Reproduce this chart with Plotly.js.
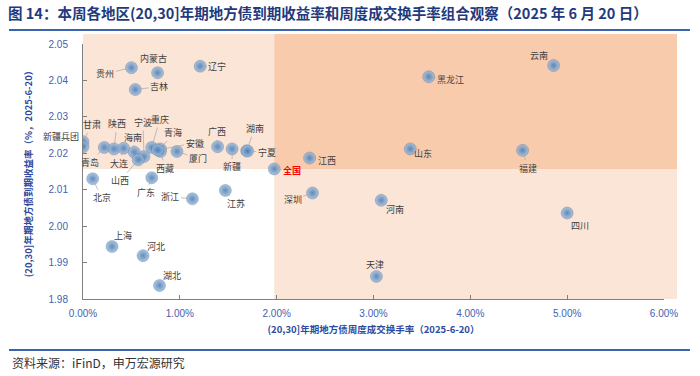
<!DOCTYPE html>
<html>
<head>
<meta charset="utf-8">
<script src="https://cdn.plot.ly/plotly-3.0.1.min.js"></script>
<style>html,body{margin:0;padding:0;background:#fff;}#chart{width:700px;height:376px;}</style>
</head>
<body>
<div id="chart"></div>
<script>
// ---- data ----
const regions = ["贵州","内蒙古","吉林","辽宁","云南","黑龙江","山东","福建","江西","全国",
  "深圳","河南","四川","天津","北京","广东","浙江","江苏","上海","河北","湖北",
  "甘肃","新疆兵团","青岛","陕西","大连","海南","宁波","山西","重庆","青海","西藏","安徽","厦门",
  "广西","新疆","湖南","宁夏"];
// weekly turnover rate, %
const turnover = [0.50,0.77,0.54,1.21,4.86,3.57,3.38,4.54,2.34,1.975,
  2.37,3.08,5.00,3.03,0.10,0.71,1.13,1.47,0.30,0.62,0.79,
  0.00,0.00,0.22,0.32,0.42,0.53,0.63,0.57,0.71,0.80,0.80,0.77,0.97,
  1.39,1.54,1.69,1.70];
// (20,30] yield to maturity, %
const yields = [2.0435,2.0421,2.0375,2.0439,2.0441,2.0410,2.0212,2.0208,2.0187,2.0157,
  2.0091,2.0071,2.0036,1.9862,2.0130,2.0133,2.0075,2.0098,1.9944,1.9919,1.9837,
  2.0232,2.0218,2.0216,2.0212,2.0214,2.0203,2.0191,2.0182,2.0216,2.0212,2.0205,2.0209,2.0205,
  2.0218,2.0212,2.0207,2.0206];
const xTicks = [0,1,2,3,4,5,6];
const yTicks = [1.98,1.99,2.00,2.01,2.02,2.03,2.04,2.05];
const nationalName = "全国";

// ---- label placement (pixel offsets of each label from its point) ----
const labelDX = [-26,-4,24,17,-15,22,13,5,17,18,
  -20,14,13,-1,9,-6,-22,11,11,13,12,
  9,-22,-14,3,-5,-1,-1,-18,8,13,5,37,21,
  -1,0,8,19];
const labelDY = [6,-14,-3,0,-10,3,5,18,2,2,
  7,9,12,-12,19,15,-2,13,-11,-9,-10,
  -17,-10,15,-25,15,-15,-34,21,-28,-16,17,-7,7,
  -15,18,-22,1];

(function () {
const xMin = 0, xMax = 6, yMin = 1.98, yMax = 2.05;
const ni = regions.indexOf(nationalName);
const xDiv = (turnover[ni] - xMin) / (xMax - xMin);
const yDiv = (yields[ni] - yMin) / (yMax - yMin);

const W = 700, H = 376, mL = 83, mR = 36, mT = 44, mB = 77;
const pw = W - mL - mR, ph = H - mT - mB;
const px = X => (X - mL) / pw;          // page px -> paper x
const py = Y => (H - mB - Y) / ph;      // page px -> paper y

const light = "#FBE5D6", dark = "#F8CBAD";
const xRight = px(677), yTop = py(34);

const shapes = [
  {type:"rect", xref:"paper", yref:"paper", x0:0, x1:xDiv, y0:yDiv, y1:yTop, fillcolor:light, line:{width:0}, layer:"below"},
  {type:"rect", xref:"paper", yref:"paper", x0:xDiv, x1:xRight, y0:yDiv, y1:yTop, fillcolor:dark, line:{width:0}, layer:"below"},
  {type:"rect", xref:"paper", yref:"paper", x0:xDiv, x1:xRight, y0:0, y1:yDiv, fillcolor:light, line:{width:0}, layer:"below"},
  {type:"line", xref:"paper", yref:"paper", x0:px(9), x1:px(690), y0:py(30), y1:py(30), line:{color:"#3B64B0", width:2}},
  {type:"line", xref:"paper", yref:"paper", x0:px(9), x1:px(690), y0:py(350), y1:py(350), line:{color:"#3B64B0", width:2}}
];

const annotations = regions.map((r, i) => {
  const isNat = (i === ni);
  return {
    x: turnover[i], y: yields[i], xref:"x", yref:"y",
    text: isNat ? "<b>" + r + "</b>" : r,
    showarrow: true, arrowhead: 0, arrowwidth: 0.7, arrowcolor: "#A6A6A6",
    ax: labelDX[i], ay: labelDY[i], standoff: 5,
    font: {family: "Noto Sans CJK SC, sans-serif", size: 9, color: isNat ? "#FF0000" : "#404040"}
  };
});
annotations.push({
  xref:"paper", yref:"paper", x:px(10), y:py(362), xanchor:"left", yanchor:"middle",
  text:"资料来源：iFinD，申万宏源研究", showarrow:false,
  font:{family:"Noto Sans CJK SC, sans-serif", size:12, color:"#333333"}
});

const trace = {
  type:"scatter", mode:"markers", x: turnover, y: yields, text: regions,
  hoverinfo:"text+x+y",
  marker:{size:12, color:"#9DBFE2", opacity:0.85,
    gradient:{type:"radial", color:"#4A78AE"},
    line:{width:0.6, color:"rgba(60,80,110,0.55)"}}
};

const axisFont = {family:"Liberation Sans, Arial, sans-serif", size:10, color:"#4461B0"};
const titleFont = {family:"Noto Sans CJK SC, sans-serif", size:9.5, color:"#2E4A9E"};

const layout = {
  width: W, height: H,
  margin:{l:mL, r:mR, t:mT, b:mB},
  paper_bgcolor:"#ffffff", plot_bgcolor:"rgba(0,0,0,0)",
  showlegend:false,
  title:{text:"<b>图 14：本周各地区(20,30]年期地方债到期收益率和周度成交换手率组合观察（2025 年 6 月 20 日）</b>",
    xref:"container", yref:"container", x:8/W, xanchor:"left", y:1-14/H, yanchor:"middle",
    font:{family:"Noto Sans CJK SC, sans-serif", size:14.5, color:"#1F3A7D"}},
  xaxis:{range:[xMin,xMax], tickvals:xTicks, ticktext:xTicks.map(v => v.toFixed(2) + "%"),
    showgrid:false, zeroline:false, showline:true, linecolor:"#808080", linewidth:1,
    ticks:"inside", ticklen:4, tickcolor:"#808080", tickfont:axisFont, ticklabelstandoff:5,
    title:{text:"<b>(20,30]年期地方债周度成交换手率（2025-6-20）</b>", font:titleFont, standoff:8}},
  yaxis:{range:[yMin,yMax], tickvals:yTicks, ticktext:yTicks.map(v => v.toFixed(2)),
    showgrid:false, zeroline:false, showline:true, linecolor:"#808080", linewidth:1,
    ticks:"inside", ticklen:4, tickcolor:"#808080", tickfont:axisFont, ticklabelstandoff:12,
    title:{text:"<b>(20,30]年期地方债到期收益率（%，2025-6-20）</b>", font:titleFont, standoff:14}},
  shapes: shapes,
  annotations: annotations
};

Plotly.newPlot("chart", [trace], layout, {displayModeBar:false, staticPlot:true});
})();
</script>
</body>
</html>
